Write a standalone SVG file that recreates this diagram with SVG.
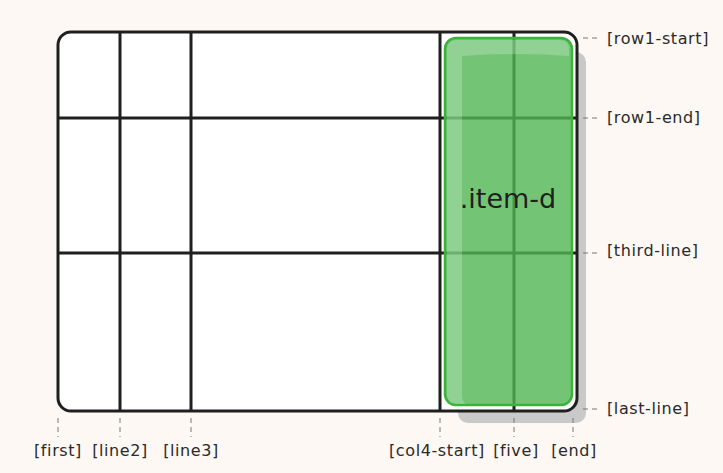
<svg xmlns="http://www.w3.org/2000/svg" width="723" height="473" viewBox="0 0 723 473">
  <style>
    .bg { fill: #fdf8f3; }
    .grid-line { stroke: #1f1f1f; stroke-width: 3; fill: none; stroke-linecap: round; }
    .frame { fill: #ffffff; stroke: #1f1f1f; stroke-width: 3; }
    .guide { stroke: #777; stroke-width: 1; stroke-dasharray: 5 4; fill: none; }
    .label { font-family: "DejaVu Sans", "Noto Sans", sans-serif; font-size: 16px; letter-spacing: 0.6px; fill: #2a2a2a; }
    .item-label { font-family: "DejaVu Sans", "Noto Sans", sans-serif; font-size: 27px; fill: #1f1f1f; text-anchor: middle; }
  </style>

  <rect class="bg" x="0" y="0" width="723" height="473"/>

  <!-- drop shadow of the placed item -->
  <rect x="458" y="52" width="128" height="371" rx="10" fill="#c9c9c9"/>

  <!-- grid container -->
  <g id="grid">
    <rect class="frame" x="58" y="32" width="519" height="379" rx="13"/>
    <line class="grid-line" x1="120" y1="33" x2="120" y2="410"/>
    <line class="grid-line" x1="191" y1="33" x2="191" y2="410"/>
    <line class="grid-line" x1="440" y1="33" x2="440" y2="410"/>
    <line class="grid-line" x1="514" y1="33" x2="514" y2="410"/>
    <line class="grid-line" x1="59" y1="118" x2="576" y2="118"/>
    <line class="grid-line" x1="59" y1="253" x2="576" y2="253"/>
  </g>

  <!-- grid item -->
  <g id="item-d">
    <rect x="445" y="38" width="127" height="367" rx="11" fill="#51b554" fill-opacity="0.8" stroke="#3bb33b" stroke-width="2.5"/>
    <path d="M447 50 Q447 40 457 40 L560 40 Q569 40 569 50 L569 56 Q520 52 462 56 L462 395 Q462 402 466 404 L457 404 Q447 404 447 394 Z" fill="#ffffff" fill-opacity="0.22"/>
    <text class="item-label" x="508" y="208">.item-d</text>
  </g>

  <!-- line name guides -->
  <g id="connectors">
    <line class="guide" x1="583" y1="38" x2="600" y2="38"/>
    <line class="guide" x1="583" y1="118" x2="600" y2="118"/>
    <line class="guide" x1="583" y1="253" x2="600" y2="253"/>
    <line class="guide" x1="583" y1="409" x2="600" y2="409"/>
    <line class="guide" x1="58" y1="418" x2="58" y2="437"/>
    <line class="guide" x1="120" y1="418" x2="120" y2="437"/>
    <line class="guide" x1="191" y1="418" x2="191" y2="437"/>
    <line class="guide" x1="440" y1="418" x2="440" y2="437"/>
    <line class="guide" x1="514" y1="418" x2="514" y2="437"/>
    <line class="guide" x1="573" y1="418" x2="573" y2="437"/>
  </g>

  <g id="row-labels">
    <text class="label" x="607" y="44">[row1-start]</text>
    <text class="label" x="607" y="123">[row1-end]</text>
    <text class="label" x="607" y="256">[third-line]</text>
    <text class="label" x="607" y="414">[last-line]</text>
  </g>

  <g id="col-labels" text-anchor="middle">
    <text class="label" x="58" y="456">[first]</text>
    <text class="label" x="120" y="456">[line2]</text>
    <text class="label" x="191" y="456">[line3]</text>
    <text class="label" x="437" y="456">[col4-start]</text>
    <text class="label" x="516" y="456">[five]</text>
    <text class="label" x="574" y="456">[end]</text>
  </g>
</svg>
